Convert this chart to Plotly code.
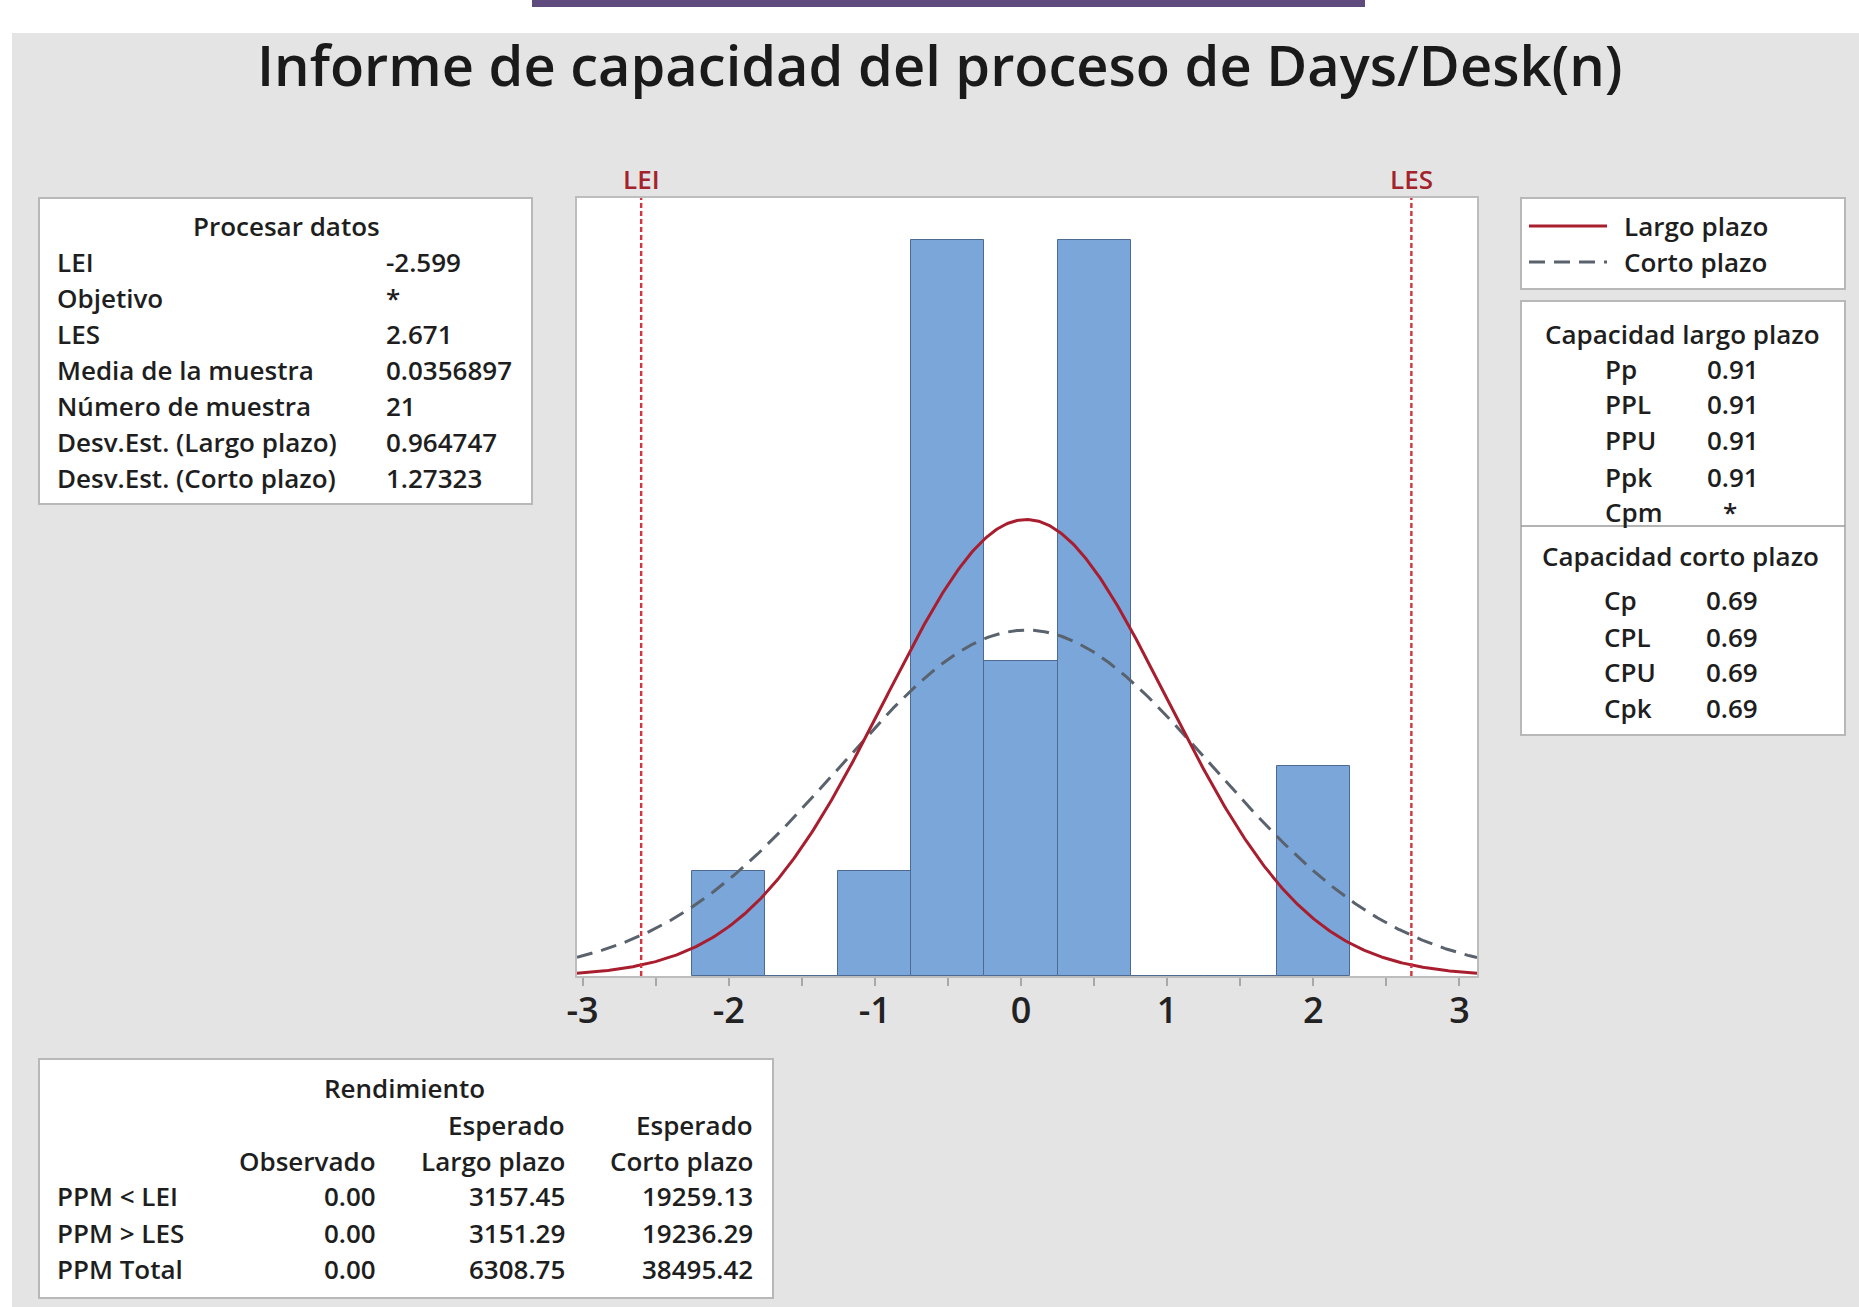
import numpy as np
import plotly.graph_objects as go

# ---------------- data ----------------
bin_mids = [-2.0, -1.5, -1.0, -0.5, 0.0, 0.5, 1.0, 1.5, 2.0]
counts = [1, 0, 1, 7, 3, 7, 0, 0, 2]
bin_width = 0.5
LEI = -2.599
LES = 2.671
sample_mean = 0.0356897
sample_n = 21
sd_long = 0.964747
sd_short = 1.27323

x_tick_vals = [-3, -2.5, -2, -1.5, -1, -0.5, 0, 0.5, 1, 1.5, 2, 2.5, 3]
x_tick_text = ["-3", "", "-2", "", "-1", "", "0", "", "1", "", "2", "", "3"]

title_text = "Informe de capacidad del proceso de Days/Desk(n)"

proc_title = "Procesar datos"
proc_labels = ["LEI", "Objetivo", "LES", "Media de la muestra", "Número de muestra",
               "Desv.Est. (Largo plazo)", "Desv.Est. (Corto plazo)"]
proc_values = ["-2.599", "*", "2.671", "0.0356897", "21", "0.964747", "1.27323"]

legend_labels = ["Largo plazo", "Corto plazo"]

cap_long_title = "Capacidad largo plazo"
cap_long_labels = ["Pp", "PPL", "PPU", "Ppk", "Cpm"]
cap_long_values = ["0.91", "0.91", "0.91", "0.91", "*"]
cap_short_title = "Capacidad corto plazo"
cap_short_labels = ["Cp", "CPL", "CPU", "Cpk"]
cap_short_values = ["0.69", "0.69", "0.69", "0.69"]

ren_title = "Rendimiento"
ren_head1 = ["", "Esperado", "Esperado"]
ren_head2 = ["Observado", "Largo plazo", "Corto plazo"]
ren_rows = ["PPM &lt; LEI", "PPM &gt; LES", "PPM Total"]
ren_obs = ["0.00", "0.00", "0.00"]
ren_long = ["3157.45", "3151.29", "6308.75"]
ren_short = ["19259.13", "19236.29", "38495.42"]

# ---------------- layout geometry (pixels) ----------------
W, H = 1859, 1307
PL, PR, PT, PB = 577, 1477, 198, 976
x_range = [-3.038, 3.12]
y_range = [0, 7.40]

FONT = "Open Sans"
TXT = "#1E1E1E"
RED = "#A81E2E"
DASHGREY = "#59626D"
SPECRED = "#D3343F"
TW = 600  # text weight


def px(x):
    return (x - PL) / (PR - PL)


def py(y):
    return (PB - y) / (PB - PT)


def npdf(x, m, s):
    return np.exp(-0.5 * ((x - m) / s) ** 2) / (s * np.sqrt(2 * np.pi))


fig = go.Figure()

fig.add_trace(go.Bar(
    x=bin_mids, y=counts, width=bin_width,
    marker=dict(color="#7BA6DA", line=dict(color="#4D6A92", width=1)),
    showlegend=False, hoverinfo="skip"))

xs = np.linspace(x_range[0], x_range[1], 500)
scale = sample_n * bin_width
fig.add_trace(go.Scatter(
    x=xs, y=scale * npdf(xs, sample_mean, sd_short), mode="lines",
    line=dict(color=DASHGREY, width=3, dash="16px,9px"),
    showlegend=False, hoverinfo="skip", cliponaxis=True))
fig.add_trace(go.Scatter(
    x=xs, y=scale * npdf(xs, sample_mean, sd_long), mode="lines",
    line=dict(color=RED, width=3),
    showlegend=False, hoverinfo="skip", cliponaxis=True))

shapes = []
annotations = []


def rect(x0, y0, x1, y1, fill, line=None, lw=0, layer="below"):
    shapes.append(dict(type="rect", xref="paper", yref="paper",
                       x0=px(x0), x1=px(x1), y0=py(y1), y1=py(y0),
                       fillcolor=fill, layer=layer,
                       line=dict(color=line if line else fill, width=lw)))


def text(x, y, s, size=26, anchor="left", color=TXT, weight=TW):
    annotations.append(dict(x=px(x), y=py(y), xref="paper", yref="paper",
                            text=s, showarrow=False, xanchor=anchor, yanchor="middle",
                            font=dict(family=FONT, size=size, color=color, weight=weight)))


# background pieces
rect(0, 0, W, 33, "white")
rect(0, 0, 12, H, "white")
rect(532, 0, 1365, 7, "#5F4B7D")

# text boxes
rect(39, 198, 532, 504, "white", "#B8B8B8", 2)
rect(1521, 198, 1845, 289, "white", "#B8B8B8", 2)
rect(1521, 301, 1845, 735, "white", "#B8B8B8", 2)
rect(39, 1059, 773, 1298, "white", "#B8B8B8", 2)
shapes.append(dict(type="line", xref="paper", yref="paper",
                   x0=px(1521), x1=px(1845), y0=py(526), y1=py(526),
                   line=dict(color="#9A9A9A", width=1.5)))

# spec limit lines
for v in (LEI, LES):
    shapes.append(dict(type="line", xref="x", yref="paper", x0=v, x1=v, y0=0, y1=1,
                       line=dict(color=SPECRED, width=2.4, dash="5px,3px"), layer="above"))
for v, lab in ((LEI, "LEI"), (LES, "LES")):
    annotations.append(dict(x=v, y=py(179), xref="x", yref="paper", text=lab,
                            showarrow=False, xanchor="center", yanchor="middle",
                            font=dict(family=FONT, size=26, color="#A3232D", weight=TW)))

# title
text(940, 64, title_text, size=56, anchor="center", color="#1A1A1A", weight=600)

# process data box
text(286, 226, proc_title, anchor="center")
proc_y = [262, 298, 334, 370, 406, 442, 478]
for lab, val, yy in zip(proc_labels, proc_values, proc_y):
    text(55, yy, lab)
    text(384, yy, val)

# legend box
shapes.append(dict(type="line", xref="paper", yref="paper",
                   x0=px(1529), x1=px(1607), y0=py(226), y1=py(226),
                   line=dict(color=RED, width=3)))
shapes.append(dict(type="line", xref="paper", yref="paper",
                   x0=px(1529), x1=px(1607), y0=py(262), y1=py(262),
                   line=dict(color=DASHGREY, width=3, dash="16px,9px")))
text(1622, 226, legend_labels[0])
text(1622, 262, legend_labels[1])

# capability box
text(1682, 334, cap_long_title, anchor="center")
cl_y = [369, 404, 440, 477, 512]
for lab, val, yy in zip(cap_long_labels, cap_long_values, cl_y):
    text(1603, yy, lab)
    if val == "*":
        text(1730, yy, val, anchor="center")
    else:
        text(1705, yy, val)
text(1680, 556, cap_short_title, anchor="center")
cs_y = [600, 637, 672, 708]
for lab, val, yy in zip(cap_short_labels, cap_short_values, cs_y):
    text(1602, yy, lab)
    text(1704, yy, val)

# yield box
text(404, 1088, ren_title, anchor="center")
col_right = [378, 567, 755]
for h1, h2, cx in zip(ren_head1, ren_head2, col_right):
    if h1:
        text(cx, 1125, h1, anchor="right")
    text(cx, 1161, h2, anchor="right")
row_y = [1196, 1233, 1269]
for i, yy in enumerate(row_y):
    text(55, yy, ren_rows[i])
    text(col_right[0], yy, ren_obs[i], anchor="right")
    text(col_right[1], yy, ren_long[i], anchor="right")
    text(col_right[2], yy, ren_short[i], anchor="right")

fig.update_layout(
    width=W, height=H,
    margin=dict(l=PL, r=W - PR, t=PT, b=H - PB, pad=0),
    paper_bgcolor="#E4E4E4",
    plot_bgcolor="white",
    bargap=0,
    showlegend=False,
    shapes=shapes,
    annotations=annotations,
    xaxis=dict(range=x_range, tickmode="array", tickvals=x_tick_vals, ticktext=x_tick_text,
               ticks="outside", ticklen=8, tickcolor="#A8A8A8", tickwidth=1.5,
               ticklabelstandoff=-6,
               showgrid=False, zeroline=False, showline=True, mirror=True,
               linecolor="#BDBDBD", linewidth=1.5,
               tickfont=dict(family=FONT, size=36, color="#222222", weight=600)),
    yaxis=dict(range=y_range, showticklabels=False, ticks="", showgrid=False,
               zeroline=False, showline=True, mirror=True,
               linecolor="#BDBDBD", linewidth=1.5),
)

fig.write_html("out.html", config={"displayModeBar": False},
               post_script="document.body.style.margin='0';")
